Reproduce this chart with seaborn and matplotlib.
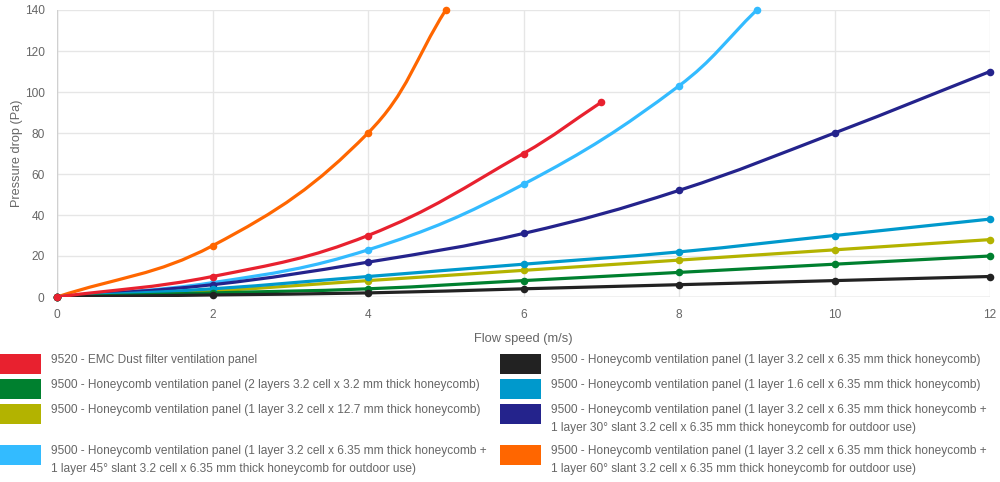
import matplotlib.pyplot as plt
import numpy as np
import pandas as pd
import seaborn as sns
from matplotlib.path import Path
from matplotlib.patches import PathPatch, Rectangle

## Pressure drop vs flow speed for ventilation panels

series_labels = [
    "9520 - EMC Dust filter ventilation panel",
    "9500 - Honeycomb ventilation panel (1 layer 3.2 cell x 6.35 mm thick honeycomb)",
    "9500 - Honeycomb ventilation panel (2 layers 3.2 cell x 3.2 mm thick honeycomb)",
    "9500 - Honeycomb ventilation panel (1 layer 1.6 cell x 6.35 mm thick honeycomb)",
    "9500 - Honeycomb ventilation panel (1 layer 3.2 cell x 12.7 mm thick honeycomb)",
    "9500 - Honeycomb ventilation panel (1 layer 3.2 cell x 6.35 mm thick honeycomb +\n1 layer 30° slant 3.2 cell x 6.35 mm thick honeycomb for outdoor use)",
    "9500 - Honeycomb ventilation panel (1 layer 3.2 cell x 6.35 mm thick honeycomb +\n1 layer 45° slant 3.2 cell x 6.35 mm thick honeycomb for outdoor use)",
    "9500 - Honeycomb ventilation panel (1 layer 3.2 cell x 6.35 mm thick honeycomb +\n1 layer 60° slant 3.2 cell x 6.35 mm thick honeycomb for outdoor use)",
]
series_colors = ["#e8212f", "#222222", "#00802f", "#0099cc",
                 "#b3b300", "#24238c", "#33bbff", "#ff6600"]

speed_full = [0, 2, 4, 6, 8, 10, 12]
speed_emc = [0, 2, 4, 6, 7]
speed_45 = [0, 2, 4, 6, 8, 9]
speed_60 = [0, 2, 4, 5]

drop_emc = [0, 10, 30, 70, 95]
drop_1layer = [0, 1, 2, 4, 6, 8, 10]
drop_2layers = [0, 2, 4, 8, 12, 16, 20]
drop_16cell = [0, 4, 10, 16, 22, 30, 38]
drop_127mm = [0, 3, 8, 13, 18, 23, 28]
drop_30slant = [0, 6, 17, 31, 52, 80, 110]
drop_45slant = [0, 7, 23, 55, 103, 140]
drop_60slant = [0, 25, 80, 140]

series_x = [speed_emc, speed_full, speed_full, speed_full,
            speed_full, speed_full, speed_45, speed_60]
series_y = [drop_emc, drop_1layer, drop_2layers, drop_16cell,
            drop_127mm, drop_30slant, drop_45slant, drop_60slant]

rows = []
for lab, xs, ys in zip(series_labels, series_x, series_y):
    for x, y in zip(xs, ys):
        rows.append({"speed": x, "drop": y, "panel": lab})
df = pd.DataFrame(rows)

sns.set_style("white")
plt.rcParams['font.family'] = ['Liberation Sans', 'DejaVu Sans']
grey = "#666666"
grid = "#e6e6e6"

W, H = 1000, 482
fig = plt.figure(figsize=(W / 100, H / 100), dpi=100)
ax = fig.add_axes([57 / W, 1 - 297 / H, (990 - 57) / W, (297 - 10) / H])
ax.set_xlim(0, 12)
ax.set_ylim(0, 140)


def smooth_path(xs, ys, tension=0.4):
    # chart.js style spline, control points computed in pixel space
    pts = ax.transData.transform(np.column_stack([xs, ys]))
    n = len(pts)
    cps = []
    for i in range(n):
        cur = pts[i]
        prev = pts[i - 1] if i > 0 else cur
        nxt = pts[i + 1] if i < n - 1 else cur
        d01 = np.hypot(*(cur - prev))
        d12 = np.hypot(*(nxt - cur))
        tot = d01 + d12
        s01 = d01 / tot if tot else 0
        s12 = d12 / tot if tot else 0
        cps.append((cur - tension * s01 * (nxt - prev),
                    cur + tension * s12 * (nxt - prev)))
    verts = [pts[0]]
    codes = [Path.MOVETO]
    for i in range(n - 1):
        verts += [cps[i][1], cps[i + 1][0], pts[i + 1]]
        codes += [Path.CURVE4] * 3
    inv = ax.transData.inverted()
    return Path(inv.transform(np.array(verts)), codes)


# first dataset drawn on top
for k in reversed(range(len(series_labels))):
    z = 10 + (len(series_labels) - k) * 2
    patch = PathPatch(smooth_path(series_x[k], series_y[k]), facecolor="none",
                      edgecolor=series_colors[k], lw=2.3, zorder=z,
                      capstyle="round", joinstyle="round")
    ax.add_patch(patch)
    sub = df[df["panel"] == series_labels[k]]
    sns.scatterplot(data=sub, x="speed", y="drop", ax=ax, color=series_colors[k],
                    s=30, linewidth=0, legend=False, zorder=z + 1, clip_on=False)

ax.set_xticks(range(0, 13, 2))
ax.set_yticks(range(0, 141, 20))
ax.grid(True, color=grid, lw=1)
for s in ax.spines.values():
    s.set_visible(False)
ax.axhline(0, color="#d0d0d0", lw=1, zorder=1)
ax.axvline(0, color="#d0d0d0", lw=1, zorder=1)
ax.tick_params(axis="both", length=6, width=1, color=grid, labelcolor=grey,
               labelsize=8.6, pad=3)
ax.set_xlabel("Flow speed (m/s)", color=grey, fontsize=9.3, labelpad=8)
ax.set_ylabel("Pressure drop (Pa)", color=grey, fontsize=9.2, labelpad=1.5)

# legend, two columns, boxes aligned to the first text line
row_tops = [354, 379, 404, 445]
col_box_x = [0, 500]
for k, lab in enumerate(series_labels):
    row, col = k // 2, k % 2
    top = row_tops[row]
    bx = col_box_x[col]
    fig.patches.append(Rectangle((bx / W, 1 - (top + 20) / H), 41 / W, 20 / H,
                                 transform=fig.transFigure, facecolor=series_colors[k],
                                 edgecolor="none"))
    for j, line in enumerate(lab.split("\n")):
        fig.text((bx + 51) / W, 1 - (top + 6 + 18 * j) / H, line, color=grey,
                 fontsize=8.6, va="center", ha="left")

fig.savefig("out.png", dpi=100, facecolor="white")
